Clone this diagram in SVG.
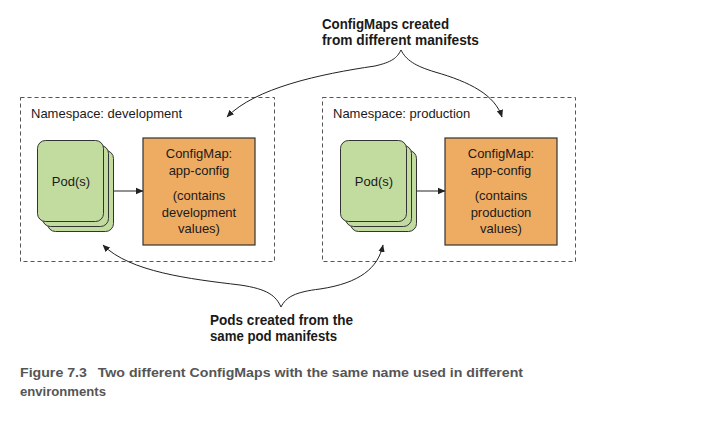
<svg xmlns="http://www.w3.org/2000/svg" width="718" height="421" viewBox="0 0 718 421">
<defs>
<marker id="ah" markerWidth="8" markerHeight="8" refX="7" refY="4" orient="auto" markerUnits="userSpaceOnUse">
<path d="M0,0.8 L7.5,4 L0,7.2 z" fill="#222"/>
</marker>
<style>
.ns{fill:none;stroke:#555;stroke-width:1;stroke-dasharray:4 3}
.lbl{font-family:"Liberation Sans",Arial,sans-serif;font-size:13px;fill:#1a1a1a}
.ctr{text-anchor:middle}
.pod{fill:#c2dca0;stroke:#333;stroke-width:1}
.cm{fill:#eeac62;stroke:#333;stroke-width:1.2}
.con{fill:none;stroke:#222;stroke-width:1}
.call{font-family:"Liberation Sans",Arial,sans-serif;font-size:15.5px;font-weight:bold;fill:#1a1a1a}
.cap{font-family:"Liberation Sans",Arial,sans-serif;font-size:13px;font-weight:bold;fill:#555}
</style>
</defs>
<rect width="718" height="421" fill="#fff"/>

<g id="ns-development">
<rect class="ns" x="20.5" y="97.5" width="254" height="164"/>
<text class="lbl" x="31" y="118">Namespace: development</text>
</g>
<g id="ns-production">
<rect class="ns" x="322.5" y="97.5" width="253" height="164"/>
<text class="lbl" x="333" y="118">Namespace: production</text>
</g>

<g id="pods-development">
<rect class="pod" x="47.5" y="150.5" width="66" height="81" rx="8"/>
<rect class="pod" x="42.5" y="145.5" width="66" height="81" rx="8"/>
<rect class="pod" x="37.5" y="140.5" width="66" height="81" rx="8"/>
<text class="lbl ctr" x="71" y="186">Pod(s)</text>
</g>
<g id="configmap-development">
<rect class="cm" x="143" y="138" width="112" height="107"/>
<text class="lbl ctr" x="199" y="158">ConfigMap:</text>
<text class="lbl ctr" x="199" y="175">app-config</text>
<text class="lbl ctr" x="199" y="200">(contains</text>
<text class="lbl ctr" x="199" y="217">development</text>
<text class="lbl ctr" x="199" y="233">values)</text>
</g>

<g id="pods-production">
<rect class="pod" x="350.5" y="150.5" width="66" height="81" rx="8"/>
<rect class="pod" x="345.5" y="145.5" width="66" height="81" rx="8"/>
<rect class="pod" x="340.5" y="140.5" width="66" height="81" rx="8"/>
<text class="lbl ctr" x="374" y="186">Pod(s)</text>
</g>
<g id="configmap-production">
<rect class="cm" x="445" y="138" width="112" height="107"/>
<text class="lbl ctr" x="501" y="158">ConfigMap:</text>
<text class="lbl ctr" x="501" y="175">app-config</text>
<text class="lbl ctr" x="501" y="200">(contains</text>
<text class="lbl ctr" x="501" y="217">production</text>
<text class="lbl ctr" x="501" y="233">values)</text>
</g>

<g id="callout-configmaps">
<text class="call" x="322" y="29" textLength="127" lengthAdjust="spacingAndGlyphs">ConfigMaps created</text>
<text class="call" x="322" y="45" textLength="157" lengthAdjust="spacingAndGlyphs">from different manifests</text>
</g>
<g id="callout-pods">
<text class="call" x="210" y="325" textLength="143" lengthAdjust="spacingAndGlyphs">Pods created from the</text>
<text class="call" x="210" y="341" textLength="127" lengthAdjust="spacingAndGlyphs">same pod manifests</text>
</g>

<g id="connectors">
<line class="con" x1="114" y1="191" x2="143" y2="191" marker-end="url(#ah)"/>
<line class="con" x1="417" y1="191" x2="445" y2="191" marker-end="url(#ah)"/>
<path class="con" d="M401,50 C397,58 392,62 375,66 C320,74 255,88 227,117" marker-end="url(#ah)"/>
<path class="con" d="M401,50 C406,60 415,66 435,72 C470,82 495,95 502,117" marker-end="url(#ah)"/>
<path class="con" d="M281,307 C276,296 268,289 240,285 C190,279 130,272 103,245" marker-end="url(#ah)"/>
<path class="con" d="M281,307 C286,297 295,292 320,289 C360,283 378,268 383,245" marker-end="url(#ah)"/>
</g>

<g id="caption">
<text class="cap" x="20" y="377" textLength="503" lengthAdjust="spacingAndGlyphs">Figure 7.3<tspan dx="10">Two different ConfigMaps with the same name used in different</tspan></text>
<text class="cap" x="20" y="396" textLength="86" lengthAdjust="spacingAndGlyphs">environments</text>
</g>
</svg>
